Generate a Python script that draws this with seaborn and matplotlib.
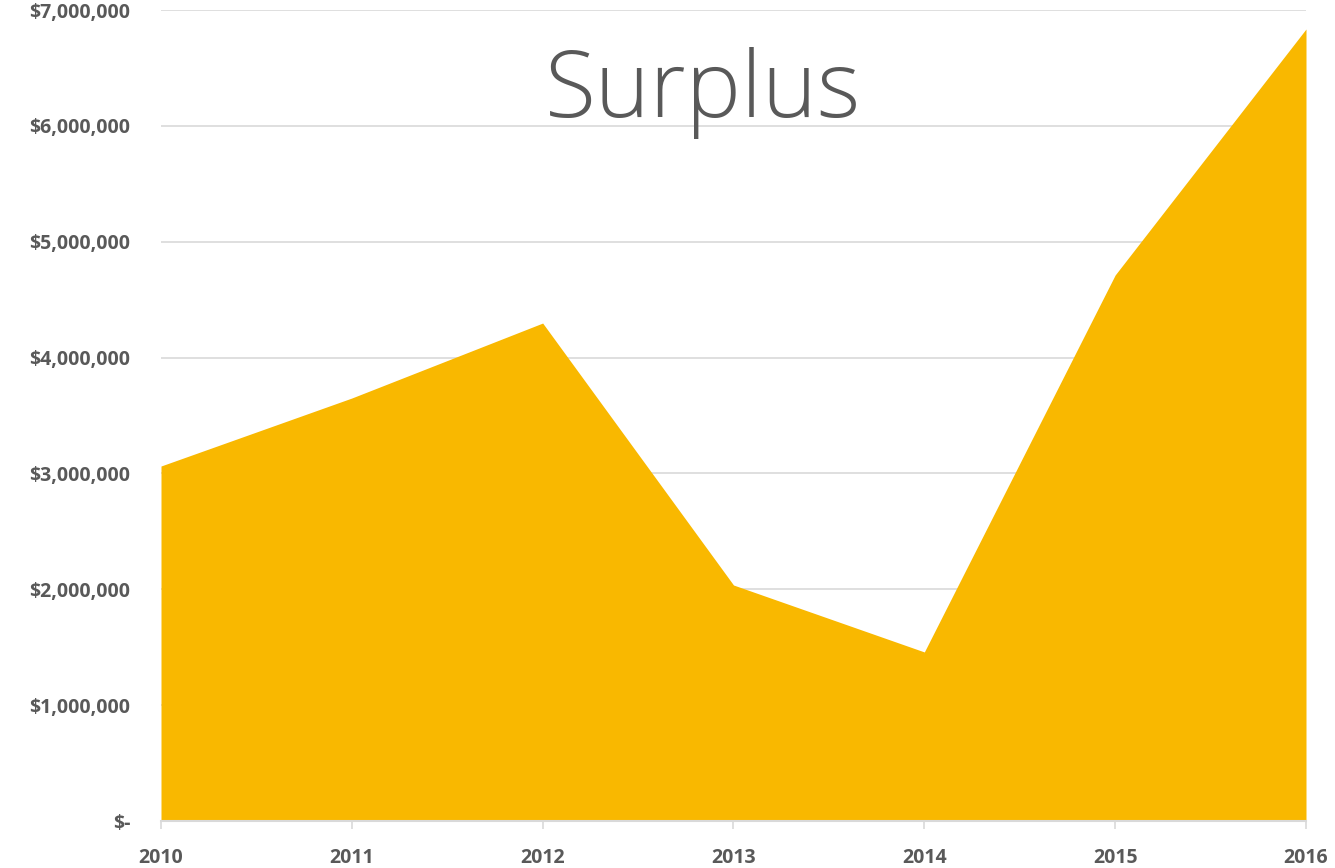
import matplotlib
matplotlib.use("Agg")
import matplotlib.pyplot as plt
import seaborn as sns
import numpy as np
import pandas as pd
from matplotlib.ticker import FuncFormatter

years = [2010, 2011, 2012, 2013, 2014, 2015, 2016]
surplus = [3064000, 3651000, 4298000, 2037000, 1459000, 4713000, 6836000]
title = "Surplus"

df = pd.DataFrame({"year": years, "surplus": surplus})

sns.set_theme(style="white")
plt.rcParams['font.family'] = ['Open Sans', 'DejaVu Sans']
plt.rcParams['font.weight'] = 'bold'

fig = plt.figure(figsize=(13.35, 8.68), dpi=100)
ax = fig.add_axes([161/1335, 47/868, (1306-161)/1335, (821-10)/868])

sns.lineplot(data=df, x="year", y="surplus", ax=ax, color="#F9B800", linewidth=0)
ax.fill_between(df["year"], df["surplus"], 0, color="#F9B800", linewidth=0, zorder=2)

ax.set_xlim(2010, 2016)
ax.set_ylim(0, 7000000)
ax.set_yticks(np.arange(0, 7000001, 1000000))
ax.set_xticks(years)

def fmt(v, pos):
    if v == 0:
        return "$-"
    return "${:,.0f}".format(v)
ax.yaxis.set_major_formatter(FuncFormatter(fmt))

ax.grid(axis="y", color="#D9D9D9", linewidth=1.2, zorder=0)
ax.set_axisbelow(True)
for s in ["top", "right", "left"]:
    ax.spines[s].set_visible(False)
ax.spines["bottom"].set_color("#D9D9D9")
ax.spines["bottom"].set_linewidth(1.5)
ax.spines["bottom"].set_zorder(3)

ax.tick_params(axis="x", which="major", length=5.5, width=1.2, color="#D9D9D9",
               labelsize=14, labelcolor="#595959", pad=14, bottom=True)
ax.tick_params(axis="y", length=0, labelsize=14, labelcolor="#595959", pad=22)

ax.set_xlabel("")
ax.set_ylabel("")

fig.text(703/1335, 1 - 93/868, title, ha="center", va="center", fontsize=67,
         color="#595959", family=["Open Sans", "DejaVu Sans"], fontweight="light", zorder=5)

fig.savefig("out.png", dpi=100)
